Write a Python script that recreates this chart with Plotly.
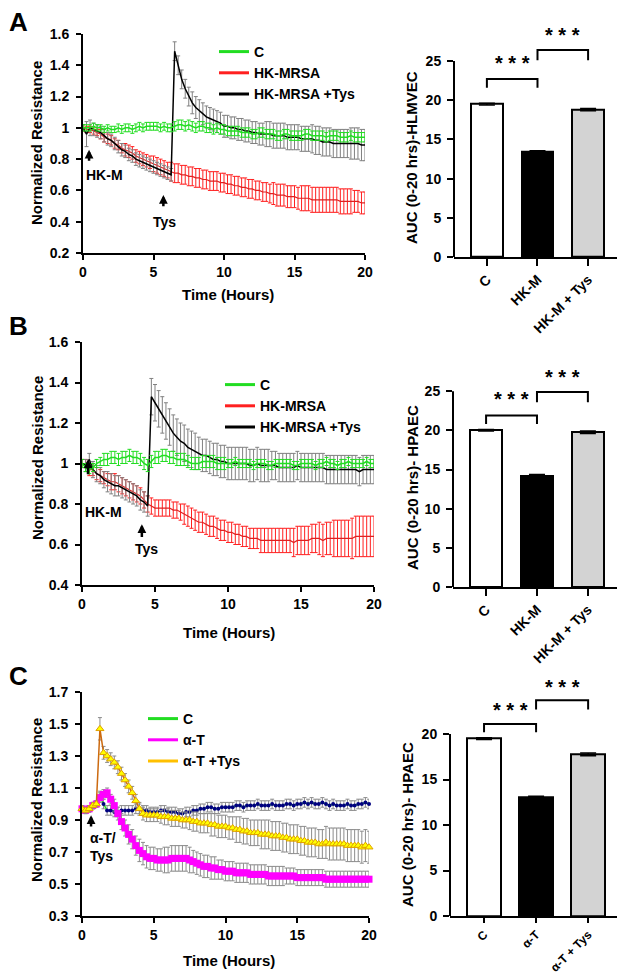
import numpy as np
import plotly.graph_objects as go

# sampling times (hours)
t = np.arange(0, 20.001, 0.25)

# ---- panel A (HLMVEC) ----
a_c = [1.00, 1.00, 1.00, 1.01, 1.00, 1.00, 0.99, 1.00,
       0.99, 0.99, 1.00, 0.99, 1.00, 1.00, 0.99, 1.00,
       1.01, 1.00, 1.01, 1.01, 1.01, 1.01, 1.00, 1.01,
       1.00, 1.00, 1.01, 1.02, 1.02, 1.01, 1.02, 1.01,
       1.00, 1.01, 1.01, 1.00, 1.00, 0.99, 1.00, 0.99,
       0.99, 0.98, 0.98, 0.98, 0.98, 0.97, 0.97, 0.97,
       0.96, 0.96, 0.97, 0.97, 0.96, 0.96, 0.96, 0.95,
       0.95, 0.96, 0.96, 0.95, 0.95, 0.95, 0.95, 0.96,
       0.96, 0.95, 0.95, 0.95, 0.95, 0.94, 0.95, 0.95,
       0.95, 0.94, 0.94, 0.94, 0.95, 0.94, 0.94, 0.94,
       0.94]
a_c_err = [0.02, 0.02, 0.02, 0.02, 0.02, 0.02, 0.02, 0.02,
           0.02, 0.02, 0.025, 0.025, 0.025, 0.025, 0.025, 0.025,
           0.025, 0.025, 0.025, 0.025, 0.025, 0.025, 0.025, 0.025,
           0.025, 0.025, 0.03, 0.03, 0.03, 0.03, 0.03, 0.03,
           0.03, 0.03, 0.03, 0.03, 0.03, 0.03, 0.03, 0.03,
           0.03, 0.03, 0.03, 0.03, 0.03, 0.03, 0.03, 0.03,
           0.03, 0.03, 0.03, 0.03, 0.03, 0.03, 0.03, 0.03,
           0.03, 0.03, 0.03, 0.03, 0.03, 0.03, 0.03, 0.03,
           0.03, 0.03, 0.03, 0.03, 0.03, 0.03, 0.03, 0.03,
           0.03, 0.03, 0.03, 0.03, 0.03, 0.03, 0.03, 0.03,
           0.03]
a_m = [1.00, 0.99, 0.99, 0.98, 0.97, 0.96, 0.94, 0.93,
       0.92, 0.90, 0.89, 0.87, 0.86, 0.85, 0.84, 0.82,
       0.81, 0.80, 0.79, 0.78, 0.77, 0.76, 0.75, 0.74,
       0.73, 0.72, 0.71, 0.71, 0.70, 0.70, 0.69, 0.69,
       0.68, 0.68, 0.67, 0.67, 0.66, 0.66, 0.66, 0.65,
       0.65, 0.64, 0.64, 0.63, 0.63, 0.62, 0.62, 0.61,
       0.61, 0.60, 0.60, 0.59, 0.59, 0.58, 0.58, 0.57,
       0.57, 0.57, 0.56, 0.56, 0.56, 0.55, 0.55, 0.55,
       0.55, 0.54, 0.54, 0.54, 0.54, 0.54, 0.54, 0.54,
       0.54, 0.53, 0.53, 0.53, 0.53, 0.53, 0.53, 0.52,
       0.52]
a_m_err = [0.02, 0.02, 0.02, 0.02, 0.02, 0.03, 0.03, 0.03,
           0.03, 0.03, 0.03, 0.03, 0.04, 0.04, 0.04, 0.04,
           0.04, 0.04, 0.04, 0.04, 0.05, 0.05, 0.05, 0.05,
           0.05, 0.06, 0.06, 0.06, 0.06, 0.06, 0.06, 0.06,
           0.06, 0.06, 0.06, 0.06, 0.06, 0.06, 0.06, 0.06,
           0.06, 0.06, 0.06, 0.06, 0.06, 0.06, 0.06, 0.06,
           0.06, 0.06, 0.06, 0.06, 0.06, 0.06, 0.07, 0.07,
           0.07, 0.07, 0.07, 0.07, 0.07, 0.07, 0.08, 0.08,
           0.08, 0.08, 0.08, 0.08, 0.08, 0.08, 0.08, 0.08,
           0.08, 0.08, 0.08, 0.08, 0.08, 0.07, 0.07, 0.07,
           0.07]
a_mt = [1.00, 0.96, 1.00, 0.99, 0.98, 0.97, 0.95, 0.93,
        0.92, 0.90, 0.88, 0.86, 0.85, 0.83, 0.82, 0.80,
        0.79, 0.78, 0.77, 0.76, 0.75, 0.74, 0.73, 0.72,
        0.71, 0.70, 1.49, 1.40, 1.31, 1.25, 1.20, 1.16,
        1.13, 1.11, 1.09, 1.07, 1.06, 1.05, 1.04, 1.03,
        1.01, 1.01, 1.00, 1.00, 0.99, 0.99, 0.98, 0.98,
        0.97, 0.97, 0.96, 0.96, 0.96, 0.96, 0.95, 0.95,
        0.95, 0.95, 0.94, 0.94, 0.94, 0.94, 0.93, 0.93,
        0.93, 0.93, 0.92, 0.92, 0.91, 0.91, 0.91, 0.90,
        0.90, 0.90, 0.90, 0.90, 0.90, 0.90, 0.90, 0.89,
        0.89]
a_mt_err = [0.02, 0.08, 0.05, 0.04, 0.04, 0.04, 0.04, 0.04,
            0.04, 0.04, 0.04, 0.04, 0.04, 0.04, 0.04, 0.04,
            0.04, 0.04, 0.04, 0.04, 0.04, 0.04, 0.04, 0.04,
            0.04, 0.04, 0.06, 0.06, 0.06, 0.06, 0.06, 0.07,
            0.07, 0.07, 0.07, 0.07, 0.07, 0.07, 0.07, 0.07,
            0.07, 0.07, 0.07, 0.07, 0.07, 0.07, 0.07, 0.07,
            0.07, 0.07, 0.07, 0.07, 0.08, 0.08, 0.08, 0.08,
            0.08, 0.08, 0.08, 0.08, 0.08, 0.08, 0.08, 0.08,
            0.08, 0.09, 0.09, 0.09, 0.09, 0.09, 0.09, 0.09,
            0.09, 0.09, 0.09, 0.09, 0.10, 0.10, 0.10, 0.10,
            0.10]

# ---- panel B (HPAEC, HK-MRSA) ----
b_c = [1.00, 0.98, 0.97, 0.98, 1.00, 1.01, 1.02, 1.02,
       1.03, 1.03, 1.02, 1.03, 1.03, 1.04, 1.03, 1.03,
       1.02, 1.00, 0.99, 1.01, 1.03, 1.03, 1.04, 1.04,
       1.03, 1.03, 1.02, 1.02, 1.02, 1.01, 1.00, 1.00,
       1.00, 1.01, 1.01, 1.01, 1.01, 1.00, 1.00, 1.00,
       1.00, 1.00, 1.01, 1.00, 1.00, 1.00, 1.00, 0.99,
       1.00, 1.00, 1.00, 0.99, 0.99, 1.00, 1.00, 1.00,
       1.00, 1.00, 0.99, 0.99, 1.00, 1.00, 1.00, 1.00,
       0.99, 1.00, 1.00, 1.01, 1.00, 1.00, 0.99, 1.00,
       1.00, 1.01, 1.00, 1.00, 1.00, 1.00, 1.01, 1.00,
       1.00]
b_c_err = [0.02, 0.02, 0.02, 0.02, 0.02, 0.02, 0.03, 0.03,
           0.03, 0.03, 0.03, 0.03, 0.03, 0.03, 0.03, 0.03,
           0.03, 0.03, 0.03, 0.03, 0.03, 0.03, 0.03, 0.03,
           0.03, 0.03, 0.03, 0.03, 0.03, 0.03, 0.03, 0.03,
           0.03, 0.03, 0.03, 0.03, 0.03, 0.03, 0.03, 0.03,
           0.02, 0.02, 0.02, 0.02, 0.02, 0.02, 0.02, 0.02,
           0.02, 0.02, 0.02, 0.02, 0.02, 0.02, 0.02, 0.02,
           0.02, 0.02, 0.02, 0.02, 0.02, 0.02, 0.02, 0.02,
           0.02, 0.02, 0.02, 0.02, 0.02, 0.02, 0.02, 0.02,
           0.02, 0.02, 0.02, 0.02, 0.02, 0.02, 0.02, 0.02,
           0.02]
b_m = [1.00, 1.00, 0.97, 0.97, 0.95, 0.94, 0.93, 0.92,
       0.91, 0.91, 0.90, 0.89, 0.88, 0.87, 0.86, 0.85,
       0.84, 0.82, 0.80, 0.79, 0.78, 0.78, 0.78, 0.78,
       0.78, 0.77, 0.77, 0.76, 0.75, 0.74, 0.73, 0.72,
       0.71, 0.71, 0.70, 0.69, 0.69, 0.68, 0.67, 0.67,
       0.66, 0.66, 0.65, 0.65, 0.64, 0.64, 0.63, 0.63,
       0.63, 0.62, 0.62, 0.62, 0.62, 0.62, 0.62, 0.62,
       0.62, 0.62, 0.61, 0.62, 0.62, 0.62, 0.62, 0.63,
       0.63, 0.63, 0.62, 0.63, 0.63, 0.63, 0.63, 0.63,
       0.63, 0.63, 0.63, 0.64, 0.64, 0.64, 0.64, 0.64,
       0.64]
b_m_err = [0.02, 0.02, 0.03, 0.03, 0.03, 0.03, 0.03, 0.03,
           0.04, 0.04, 0.04, 0.04, 0.04, 0.04, 0.04, 0.04,
           0.04, 0.04, 0.04, 0.04, 0.04, 0.04, 0.04, 0.04,
           0.04, 0.04, 0.04, 0.04, 0.05, 0.05, 0.05, 0.05,
           0.05, 0.05, 0.05, 0.05, 0.05, 0.05, 0.05, 0.05,
           0.05, 0.05, 0.05, 0.05, 0.05, 0.05, 0.05, 0.05,
           0.05, 0.06, 0.06, 0.06, 0.06, 0.06, 0.06, 0.06,
           0.06, 0.06, 0.07, 0.07, 0.07, 0.07, 0.07, 0.07,
           0.07, 0.08, 0.08, 0.08, 0.08, 0.09, 0.09, 0.09,
           0.09, 0.09, 0.10, 0.10, 0.10, 0.10, 0.10, 0.10,
           0.10]
b_mt = [1.00, 0.99, 1.02, 0.97, 0.95, 0.94, 0.92, 0.91,
        0.90, 0.89, 0.89, 0.88, 0.87, 0.86, 0.85, 0.84,
        0.82, 0.81, 0.79, 1.33, 1.30, 1.27, 1.24, 1.21,
        1.18, 1.15, 1.13, 1.11, 1.10, 1.08, 1.07, 1.06,
        1.05, 1.04, 1.04, 1.03, 1.02, 1.02, 1.01, 1.01,
        1.00, 1.00, 1.00, 1.00, 1.00, 1.00, 0.99, 0.99,
        1.00, 0.99, 0.99, 0.99, 0.99, 0.99, 0.98, 0.98,
        0.98, 0.98, 0.98, 0.99, 0.98, 0.98, 0.98, 0.98,
        0.98, 0.98, 0.98, 0.97, 0.97, 0.97, 0.97, 0.97,
        0.97, 0.97, 0.97, 0.97, 0.96, 0.97, 0.97, 0.97,
        0.97]
b_mt_err = [0.02, 0.03, 0.03, 0.04, 0.04, 0.04, 0.04, 0.05,
            0.05, 0.05, 0.05, 0.05, 0.05, 0.05, 0.05, 0.05,
            0.05, 0.05, 0.05, 0.09, 0.09, 0.09, 0.09, 0.09,
            0.09, 0.09, 0.09, 0.09, 0.09, 0.09, 0.09, 0.09,
            0.08, 0.08, 0.08, 0.08, 0.08, 0.08, 0.08, 0.08,
            0.08, 0.08, 0.08, 0.08, 0.08, 0.08, 0.08, 0.08,
            0.08, 0.08, 0.08, 0.08, 0.07, 0.07, 0.07, 0.07,
            0.07, 0.07, 0.07, 0.07, 0.07, 0.07, 0.07, 0.07,
            0.07, 0.07, 0.07, 0.07, 0.07, 0.07, 0.07, 0.07,
            0.07, 0.07, 0.07, 0.07, 0.07, 0.07, 0.07, 0.07,
            0.07]

# ---- panel C (HPAEC, alpha-toxin) ----
c_c = [0.97, 0.96, 0.97, 0.99, 1.00, 1.05, 1.00, 0.96,
       0.96, 0.95, 0.95, 0.96, 0.96, 0.96, 0.96, 0.97,
       0.97, 0.96, 0.96, 0.95, 0.95, 0.95, 0.96, 0.96,
       0.95, 0.95, 0.95, 0.94, 0.94, 0.95, 0.95, 0.96,
       0.96, 0.97, 0.97, 0.98, 0.98, 0.97, 0.97, 0.98,
       0.98, 0.98, 0.98, 0.99, 0.99, 0.98, 0.99, 0.99,
       0.99, 1.00, 0.99, 0.99, 0.99, 1.00, 0.99, 0.99,
       0.99, 1.00, 1.00, 0.99, 1.00, 1.00, 1.01, 1.00,
       1.01, 1.00, 1.00, 1.01, 1.00, 0.99, 1.00, 0.99,
       0.99, 0.99, 1.00, 0.99, 0.99, 1.00, 1.00, 1.01,
       1.00]
c_c_err = [0.02, 0.02, 0.02, 0.02, 0.02, 0.03, 0.03, 0.03,
           0.03, 0.03, 0.03, 0.03, 0.03, 0.03, 0.03, 0.03,
           0.03, 0.03, 0.03, 0.03, 0.03, 0.03, 0.03, 0.03,
           0.03, 0.03, 0.03, 0.03, 0.03, 0.03, 0.03, 0.03,
           0.03, 0.03, 0.03, 0.03, 0.03, 0.03, 0.03, 0.03,
           0.03, 0.03, 0.03, 0.03, 0.03, 0.03, 0.03, 0.03,
           0.03, 0.03, 0.03, 0.03, 0.03, 0.03, 0.03, 0.03,
           0.03, 0.03, 0.03, 0.03, 0.03, 0.03, 0.03, 0.03,
           0.03, 0.03, 0.03, 0.03, 0.03, 0.03, 0.03, 0.03,
           0.03, 0.03, 0.03, 0.03, 0.03, 0.03, 0.03, 0.03,
           0.03]
c_at = [0.97, 0.96, 0.97, 0.99, 1.00, 1.04, 1.06, 1.07,
        1.03, 0.99, 0.94, 0.89, 0.85, 0.81, 0.78, 0.74,
        0.71, 0.69, 0.67, 0.66, 0.66, 0.65, 0.65, 0.65,
        0.65, 0.66, 0.66, 0.66, 0.66, 0.66, 0.65, 0.64,
        0.63, 0.62, 0.61, 0.61, 0.60, 0.60, 0.59, 0.59,
        0.58, 0.58, 0.58, 0.57, 0.57, 0.57, 0.57, 0.56,
        0.56, 0.56, 0.56, 0.56, 0.55, 0.55, 0.55, 0.55,
        0.55, 0.55, 0.55, 0.55, 0.54, 0.54, 0.54, 0.54,
        0.54, 0.54, 0.54, 0.54, 0.53, 0.53, 0.53, 0.53,
        0.53, 0.53, 0.53, 0.53, 0.53, 0.53, 0.53, 0.53,
        0.53]
c_at_err = [0.02, 0.02, 0.02, 0.02, 0.02, 0.03, 0.03, 0.03,
            0.03, 0.04, 0.04, 0.05, 0.05, 0.06, 0.06, 0.06,
            0.07, 0.07, 0.07, 0.07, 0.07, 0.07, 0.07, 0.08,
            0.08, 0.08, 0.08, 0.08, 0.08, 0.08, 0.08, 0.07,
            0.07, 0.07, 0.07, 0.07, 0.07, 0.07, 0.06, 0.06,
            0.06, 0.06, 0.06, 0.06, 0.06, 0.06, 0.06, 0.06,
            0.06, 0.06, 0.06, 0.06, 0.06, 0.06, 0.06, 0.06,
            0.06, 0.05, 0.05, 0.05, 0.05, 0.05, 0.05, 0.05,
            0.05, 0.05, 0.05, 0.05, 0.05, 0.05, 0.05, 0.05,
            0.05, 0.05, 0.05, 0.05, 0.05, 0.05, 0.05, 0.05,
            0.05]
c_att = [0.97, 0.96, 0.97, 0.99, 1.00, 1.47, 1.32, 1.30,
         1.28, 1.26, 1.23, 1.19, 1.15, 1.11, 1.07, 1.02,
         0.97, 0.94, 0.93, 0.93, 0.93, 0.93, 0.92, 0.92,
         0.92, 0.91, 0.91, 0.91, 0.90, 0.90, 0.90, 0.89,
         0.89, 0.88, 0.88, 0.88, 0.87, 0.87, 0.86, 0.86,
         0.86, 0.85, 0.85, 0.84, 0.84, 0.83, 0.83, 0.82,
         0.82, 0.82, 0.81, 0.81, 0.81, 0.80, 0.80, 0.80,
         0.79, 0.79, 0.78, 0.78, 0.78, 0.77, 0.77, 0.76,
         0.76, 0.76, 0.75, 0.75, 0.76, 0.75, 0.75, 0.75,
         0.75, 0.75, 0.74, 0.74, 0.74, 0.74, 0.73, 0.74,
         0.73]
c_att_err = [0.02, 0.02, 0.02, 0.02, 0.02, 0.07, 0.04, 0.04,
             0.04, 0.04, 0.04, 0.04, 0.04, 0.04, 0.04, 0.04,
             0.04, 0.04, 0.04, 0.04, 0.04, 0.04, 0.04, 0.05,
             0.05, 0.05, 0.05, 0.05, 0.05, 0.05, 0.06, 0.06,
             0.06, 0.06, 0.06, 0.06, 0.07, 0.07, 0.07, 0.07,
             0.07, 0.07, 0.07, 0.08, 0.08, 0.08, 0.08, 0.08,
             0.08, 0.08, 0.09, 0.09, 0.09, 0.09, 0.09, 0.09,
             0.09, 0.09, 0.09, 0.09, 0.09, 0.09, 0.09, 0.09,
             0.09, 0.09, 0.09, 0.09, 0.10, 0.10, 0.10, 0.10,
             0.10, 0.10, 0.10, 0.10, 0.10, 0.10, 0.10, 0.10,
             0.10]

# ---- AUC bars ----
bar_a_labels = ["C", "HK-M", "HK-M + Tys"]
bar_a_vals = [19.5, 13.4, 18.8]
bar_a_err = [0.1, 0.15, 0.15]
bar_b_labels = ["C", "HK-M", "HK-M + Tys"]
bar_b_vals = [20.0, 14.2, 19.75]
bar_b_err = [0.1, 0.15, 0.15]
bar_c_labels = ["C", "α-T", "α-T + Tys"]
bar_c_vals = [19.5, 13.0, 17.75]
bar_c_err = [0.1, 0.15, 0.15]
bar_colors = ["white", "black", "#d3d3d3"]

FONT = "Liberation Sans, Arial, sans-serif"
GREEN = "#22dd22"
RED = "#ff2020"

# the page body adds an 8px margin, so the figure is laid out in page pixels minus 8
W, H, OFF = 617, 971, 8


def px(x):
    return (x - OFF) / W


def py(y):
    return 1 - (y - OFF) / H


fig = go.Figure()


def err(vals, color):
    return dict(type="data", array=vals, visible=True, color=color, thickness=1, width=2)


def legend_line(name, color, leg, xa, ya):
    fig.add_trace(go.Scatter(x=[None], y=[None], mode="lines", name=name,
                             line=dict(color=color, width=3), legend=leg,
                             xaxis=xa, yaxis=ya))


# panel A lines
fig.add_trace(go.Scatter(x=t, y=a_m, mode="lines", line=dict(color="#e02020", width=1.2),
                         error_y=err(a_m_err, RED), showlegend=False, xaxis="x", yaxis="y"))
fig.add_trace(go.Scatter(x=t, y=a_mt, mode="lines", line=dict(color="black", width=1.5),
                         error_y=err(a_mt_err, "#808080"), showlegend=False, xaxis="x", yaxis="y"))
fig.add_trace(go.Scatter(x=t, y=a_c, mode="lines", line=dict(color=GREEN, width=1.5),
                         error_y=err(a_c_err, GREEN), showlegend=False, xaxis="x", yaxis="y"))
legend_line("C", GREEN, "legend", "x", "y")
legend_line("HK-MRSA", RED, "legend", "x", "y")
legend_line("HK-MRSA +Tys", "black", "legend", "x", "y")

# panel B lines
fig.add_trace(go.Scatter(x=t, y=b_m, mode="lines", line=dict(color="#e02020", width=1.2),
                         error_y=err(b_m_err, RED), showlegend=False, xaxis="x3", yaxis="y3"))
fig.add_trace(go.Scatter(x=t, y=b_mt, mode="lines", line=dict(color="black", width=1.5),
                         error_y=err(b_mt_err, "#808080"), showlegend=False, xaxis="x3", yaxis="y3"))
fig.add_trace(go.Scatter(x=t, y=b_c, mode="lines", line=dict(color=GREEN, width=1.5),
                         error_y=err(b_c_err, GREEN), showlegend=False, xaxis="x3", yaxis="y3"))
legend_line("C", GREEN, "legend2", "x3", "y3")
legend_line("HK-MRSA", RED, "legend2", "x3", "y3")
legend_line("HK-MRSA +Tys", "black", "legend2", "x3", "y3")

# panel C lines
fig.add_trace(go.Scatter(x=t, y=c_c, mode="lines+markers", line=dict(color=GREEN, width=1.5),
                         marker=dict(symbol="circle", size=4, color="#000080"),
                         error_y=err(c_c_err, "#8c8c8c"), showlegend=False, cliponaxis=False,
                         xaxis="x5", yaxis="y5"))
fig.add_trace(go.Scatter(x=t, y=c_at, mode="lines+markers", line=dict(color="#ff00ff", width=2),
                         marker=dict(symbol="square", size=7, color="#ff00ff"),
                         error_y=err(c_at_err, "#8c8c8c"), showlegend=False, cliponaxis=False,
                         xaxis="x5", yaxis="y5"))
fig.add_trace(go.Scatter(x=t, y=c_att, mode="lines+markers", line=dict(color="#cc6a10", width=1.5),
                         marker=dict(symbol="triangle-up", size=7, color="#ffff00",
                                     line=dict(color="#e0a000", width=1)),
                         error_y=err(c_att_err, "#8c8c8c"), showlegend=False, cliponaxis=False,
                         xaxis="x5", yaxis="y5"))
legend_line("C", GREEN, "legend3", "x5", "y5")
legend_line("α-T", "#ff00ff", "legend3", "x5", "y5")
legend_line("α-T +Tys", "#ffc000", "legend3", "x5", "y5")

# bars
for vals, errs, xa, ya, w in [(bar_a_vals, bar_a_err, "x2", "y2", 0.63),
                              (bar_b_vals, bar_b_err, "x4", "y4", 0.63),
                              (bar_c_vals, bar_c_err, "x6", "y6", 0.65)]:
    fig.add_trace(go.Bar(x=[0, 1, 2], y=vals, width=w,
                         marker=dict(color=bar_colors, line=dict(color="black", width=2)),
                         error_y=dict(type="data", array=errs, color="black", thickness=1.5, width=8),
                         showlegend=False, xaxis=xa, yaxis=ya))

tick_font = dict(family=FONT, size=14, color="black", weight="bold")


def line_x(x0, x1, anchor):
    return dict(domain=[px(x0), px(x1)], anchor=anchor, range=[0, 20], tickvals=[0, 5, 10, 15, 20],
                showline=True, linecolor="black", linewidth=2, ticks="outside", ticklen=5,
                tickwidth=2, tickcolor="black", showgrid=False, zeroline=False, tickfont=tick_font,
                automargin=False)


def line_y(y_bot, y_top, anchor, rng, vals):
    return dict(domain=[py(y_bot), py(y_top)], anchor=anchor, range=rng, tickvals=vals,
                ticktext=[("%g" % v) for v in vals],
                showline=True, linecolor="black", linewidth=2, ticks="outside", ticklen=5,
                tickwidth=2, tickcolor="black", showgrid=False, zeroline=False,
                tickfont=tick_font, ticklabelstandoff=4, automargin=False)


def bar_x(x0, x1, anchor, rng, labels, size=14, ticklen=7):
    return dict(domain=[px(x0), px(x1)], anchor=anchor, range=rng, tickvals=[0, 1, 2],
                ticktext=labels, tickangle=-45, showline=True, linecolor="black", linewidth=2,
                ticks="outside", ticklen=ticklen, tickwidth=2, tickcolor="black", showgrid=False,
                zeroline=False, tickfont=dict(tick_font, size=size), automargin=False)


def bar_y(y_bot, y_top, anchor, rng, vals):
    return dict(domain=[py(y_bot), py(y_top)], anchor=anchor, range=rng, tickvals=vals,
                showline=False, ticks="outside", ticklen=6, tickwidth=2, tickcolor="black",
                showgrid=False, zeroline=False, tickfont=tick_font, ticklabelstandoff=3,
                automargin=False)


ya_ticks = [0.2, 0.4, 0.6, 0.8, 1.0, 1.2, 1.4, 1.6]
yb_ticks = [0.4, 0.6, 0.8, 1.0, 1.2, 1.4, 1.6]
yc_ticks = [0.3, 0.5, 0.7, 0.9, 1.1, 1.3, 1.5, 1.7]

legend_style = dict(font=dict(family=FONT, size=14, color="black", weight="bold"),
                    bgcolor="rgba(0,0,0,0)", xanchor="left", yanchor="top",
                    tracegroupgap=0, itemwidth=30)

fig.update_layout(
    width=W, height=H, margin=dict(l=0, r=0, t=0, b=0, autoexpand=False),
    paper_bgcolor="white", plot_bgcolor="white",
    font=dict(family=FONT, size=14, color="black", weight="bold"),
    bargap=0,
    xaxis=line_x(83, 365, "y"),
    yaxis=line_y(253, 34, "x", [0.2, 1.6], ya_ticks),
    xaxis2=bar_x(454, 623, "y2", [-0.65, 2.69], bar_a_labels),
    yaxis2=bar_y(257, 21.8, "x2", [0, 30], [0, 5, 10, 15, 20, 25]),
    xaxis3=line_x(82, 374, "y3"),
    yaxis3=line_y(585, 342, "x3", [0.4, 1.6], yb_ticks),
    xaxis4=bar_x(453, 623, "y4", [-0.65, 2.69], bar_b_labels),
    yaxis4=bar_y(587, 352, "x4", [0, 30], [0, 5, 10, 15, 20, 25]),
    xaxis5=line_x(82, 369, "y5"),
    yaxis5=line_y(916, 692, "x5", [0.3, 1.7], yc_ticks),
    xaxis6=bar_x(450, 623, "y6", [-0.654, 2.67], bar_c_labels, size=12, ticklen=5),
    yaxis6=bar_y(916, 670.3, "x6", [0, 27], [0, 5, 10, 15, 20]),
    legend=dict(x=px(214), y=py(36), **legend_style),
    legend2=dict(x=px(220), y=py(369), **legend_style),
    legend3=dict(x=px(143), y=py(703), **legend_style),
)

# y axis lines of the bar charts stop at the top tick
for xa, ya, top in [("x2", "y2", 25), ("x4", "y4", 25), ("x6", "y6", 20)]:
    fig.add_shape(type="line", xref=xa + " domain", yref=ya, x0=0, x1=0, y0=0, y1=top,
                  line=dict(color="black", width=2))

# significance brackets
brackets = [("x2", "y2", 0, 1, 21.6, 22.7, 24.7), ("x2", "y2", 1, 2, 25.1, 26.4, 28.3),
            ("x4", "y4", 0, 1, 20.8, 21.9, 24.0), ("x4", "y4", 1, 2, 23.6, 24.9, 26.8),
            ("x6", "y6", 0, 1, 20.2, 21.1, 22.6), ("x6", "y6", 1, 2, 22.7, 23.7, 25.2)]
for xa, ya, i0, i1, low, high, star in brackets:
    fig.add_shape(type="path", xref=xa, yref=ya,
                  path=f"M {i0},{low} L {i0},{high} L {i1},{high} L {i1},{low}",
                  line=dict(color="black", width=2))
    fig.add_annotation(x=(i0 + i1) / 2, y=star, xref=xa, yref=ya, text="* * *",
                       showarrow=False, font=dict(family=FONT, size=20, weight="bold"))

ann_font = dict(family=FONT, size=14, color="black", weight="bold")
title_font = dict(family=FONT, size=15, color="black", weight="bold")

# arrows and treatment labels
for xa, ya, x, y0, y1 in [("x", "y", 0.43, 0.78, 0.86), ("x", "y", 5.7, 0.49, 0.57),
                          ("x3", "y3", 0.41, 0.94, 1.02), ("x3", "y3", 4.1, 0.63, 0.70),
                          ("x5", "y5", 0.63, 0.85, 0.93)]:
    fig.add_annotation(x=x, y=y1, ax=x, ay=y0, xref=xa, yref=ya, axref=xa, ayref=ya,
                       text="", showarrow=True, arrowhead=2, arrowsize=0.7, arrowwidth=2.5,
                       arrowcolor="black")
fig.add_annotation(x=1.55, y=0.70, xref="x", yref="y", text="HK-M", showarrow=False, font=ann_font)
fig.add_annotation(x=5.8, y=0.40, xref="x", yref="y", text="Tys", showarrow=False, font=ann_font)
fig.add_annotation(x=1.45, y=0.76, xref="x3", yref="y3", text="HK-M", showarrow=False, font=ann_font)
fig.add_annotation(x=4.4, y=0.58, xref="x3", yref="y3", text="Tys", showarrow=False, font=ann_font)
fig.add_annotation(x=0.45, y=0.73, xref="x5", yref="y5", text="α-T/<br>Tys", showarrow=False,
                   xanchor="left", align="left", font=ann_font)

# axis titles and panel letters, centred on their page-pixel positions
labels = [("Normalized Resistance", 37, 143, -90, title_font),
          ("Normalized Resistance", 37, 458, -90, title_font),
          ("Normalized Resistance", 36, 800, -90, title_font),
          ("Time (Hours)", 228, 295, 0, title_font),
          ("Time (Hours)", 229, 632, 0, title_font),
          ("Time (Hours)", 229, 960, 0, title_font),
          ("AUC (0-20 hrs)-HLMVEC", 412, 158, -90, title_font),
          ("AUC (0-20 hrs)- HPAEC", 412, 488, -90, title_font),
          ("AUC (0-20 hrs)- HPAEC", 407, 825, -90, title_font)]
letter_font = dict(family=FONT, size=26, color="black", weight="bold")
labels += [("A", 18, 22, 0, letter_font), ("B", 18, 326, 0, letter_font),
           ("C", 18, 676, 0, letter_font)]
for txt, x, y, ang, f in labels:
    fig.add_annotation(x=px(x), y=py(y), xref="paper", yref="paper", text=txt, textangle=ang,
                       xanchor="center", yanchor="middle", showarrow=False, font=f)

fig.write_html("out.html")
